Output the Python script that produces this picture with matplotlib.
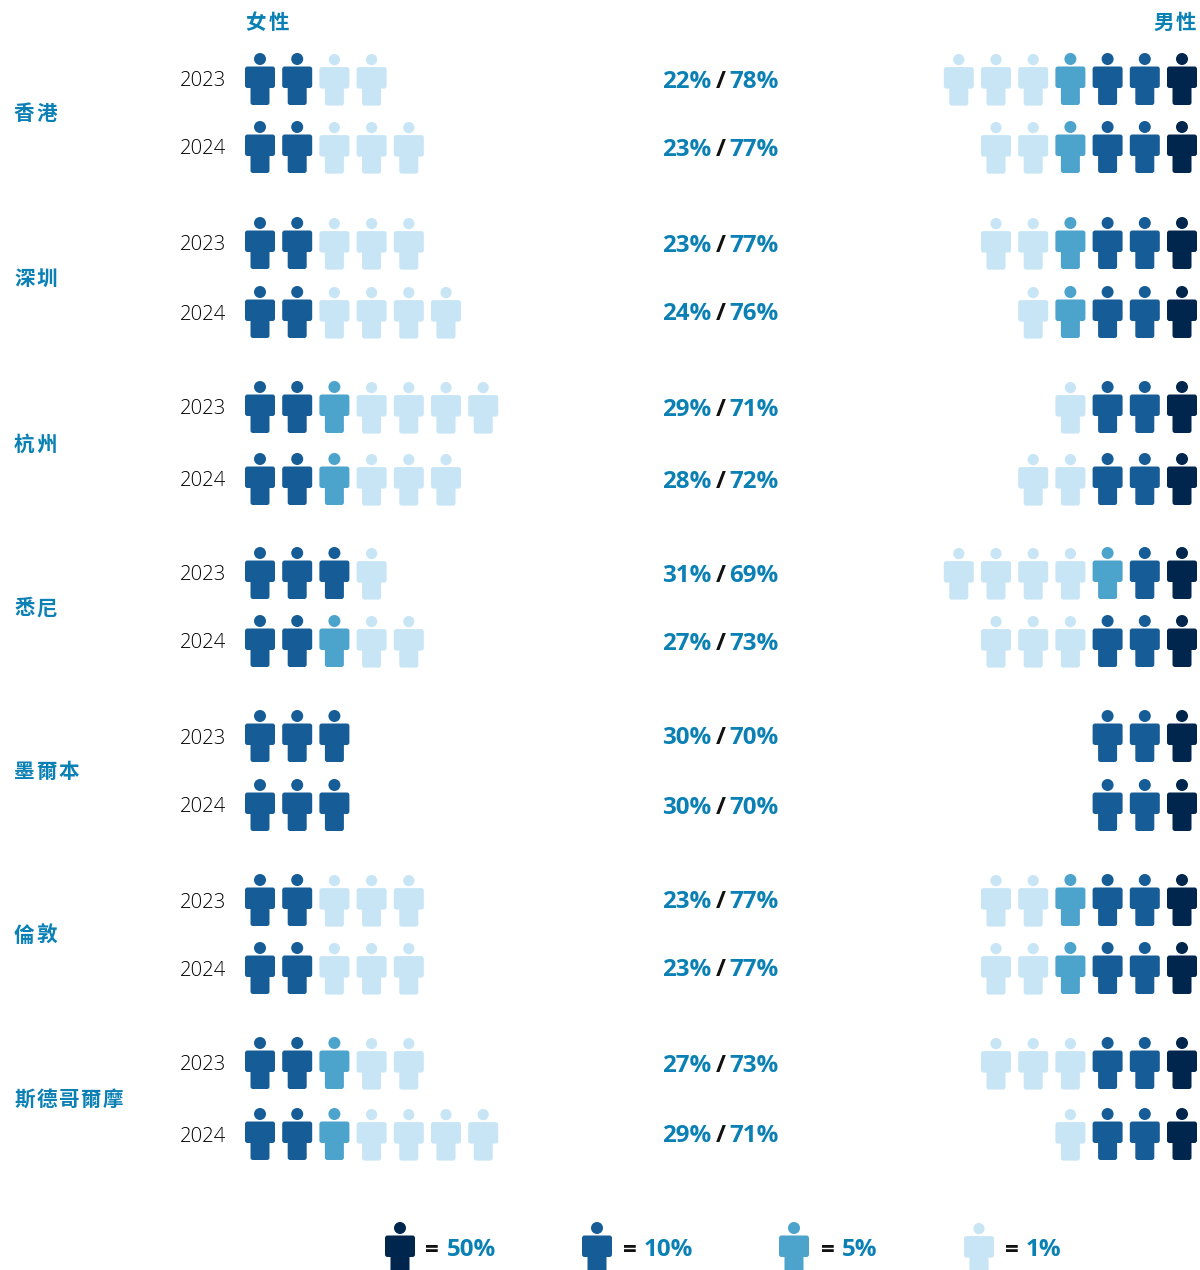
import matplotlib
matplotlib.use("Agg")
import matplotlib.pyplot as plt
from matplotlib.patches import Circle, FancyBboxPatch

plt.rcParams["font.family"] = ["Noto Sans CJK TC", "DejaVu Sans"]

# data
cities = ["香港", "深圳", "杭州", "悉尼", "墨爾本", "倫敦", "斯德哥爾摩"]
years = ["2023", "2024"]
female_pct = [22, 23, 23, 24, 29, 28, 31, 27, 30, 30, 23, 23, 27, 29]
male_pct = [78, 77, 77, 76, 71, 72, 69, 73, 70, 70, 77, 77, 73, 71]
units = [50, 10, 5, 1]
unit_colors = {50: "#00264d", 10: "#165c96", 5: "#4ca3cb", 1: "#c7e5f5"}

# layout, in pixels of the 1200x1270 picture
row_y = [79, 147, 243, 312, 407, 479, 573, 641, 736, 805, 900, 968, 1063, 1134]
female_x0 = 260
male_x0 = 1182
icon_step = 37.2
legend_x = [400, 597, 794, 979]
legend_eq_x = [425.5, 622.5, 820.5, 1004.5]
legend_y = 1248

blue = "#0a80b5"
latin = "Open Sans"

fig = plt.figure(figsize=(12, 12.7), dpi=100)
ax = plt.axes([0, 0, 1, 1])
ax.set_xlim(0, 1200)
ax.set_ylim(1270, 0)
ax.axis("off")


def split_units(pct):
    out = []
    for u in units:
        while pct >= u:
            out.append(u)
            pct -= u
    return out


def rbox(x0, y0, w, h, color, r=2.5):
    ax.add_patch(
        FancyBboxPatch(
            (x0 + r, y0 + r),
            w - 2 * r,
            h - 2 * r,
            boxstyle="round,pad={},rounding_size={}".format(r, r),
            fc=color,
            ec="none",
            lw=0,
        )
    )


def person(cx, cy, unit):
    color = unit_colors[unit]
    # the pale icons sit a hair lower in the original
    dy = 0.6 if unit == 1 else 0
    head_r = 5.6 if unit == 1 else 6
    ax.add_patch(Circle((cx, cy - 20 + dy), head_r, fc=color, ec="none", lw=0))
    rbox(cx - 9.5, cy - 4 + dy, 19, 30, color)
    rbox(cx - 15, cy - 12.5 + dy, 30, 21.5, color)


def spaced(x, y, s, step=22.2, size=14.8):
    for i, ch in enumerate(s):
        ax.text(
            x + i * step, y, ch, color=blue, fontsize=size, fontweight="bold",
            ha="left", va="center",
        )


# headers
spaced(245.5, 22.5, "女性", step=23.2)
spaced(1153, 22.5, "男性", step=23.2)

# city labels
for i, city in enumerate(cities):
    spaced(14, (row_y[2 * i] + row_y[2 * i + 1]) / 2 + 1, city)

# rows
for i, y in enumerate(row_y):
    ax.text(
        226, y, years[i % 2], family=latin, fontweight="light", fontsize=14.6,
        color="#000000", ha="right", va="center_baseline",
    )

    for j, u in enumerate(split_units(female_pct[i])):
        person(female_x0 + j * icon_step, y, u)
    for j, u in enumerate(split_units(male_pct[i])):
        person(male_x0 - j * icon_step, y, u)

    style = dict(family=latin, fontweight="bold", fontsize=17.4, va="center_baseline")
    ax.text(711.5, y - 0.5, "{}%".format(female_pct[i]), color=blue, ha="right", **style)
    ax.text(720.5, y - 0.5, "/", color="#111111", ha="center", **style)
    ax.text(729.5, y - 0.5, "{}%".format(male_pct[i]), color=blue, ha="left", **style)

# legend
for u, x, eq_x in zip(units, legend_x, legend_eq_x):
    person(x, legend_y, u)
    style = dict(family=latin, fontweight="bold", fontsize=17.4, va="center_baseline")
    ax.text(eq_x, legend_y - 0.5, "=", color="#111111", ha="left", **style)
    ax.text(eq_x + 21, legend_y - 0.5, "{}%".format(u), color=blue, ha="left", **style)

fig.savefig("out.png", dpi=100)
